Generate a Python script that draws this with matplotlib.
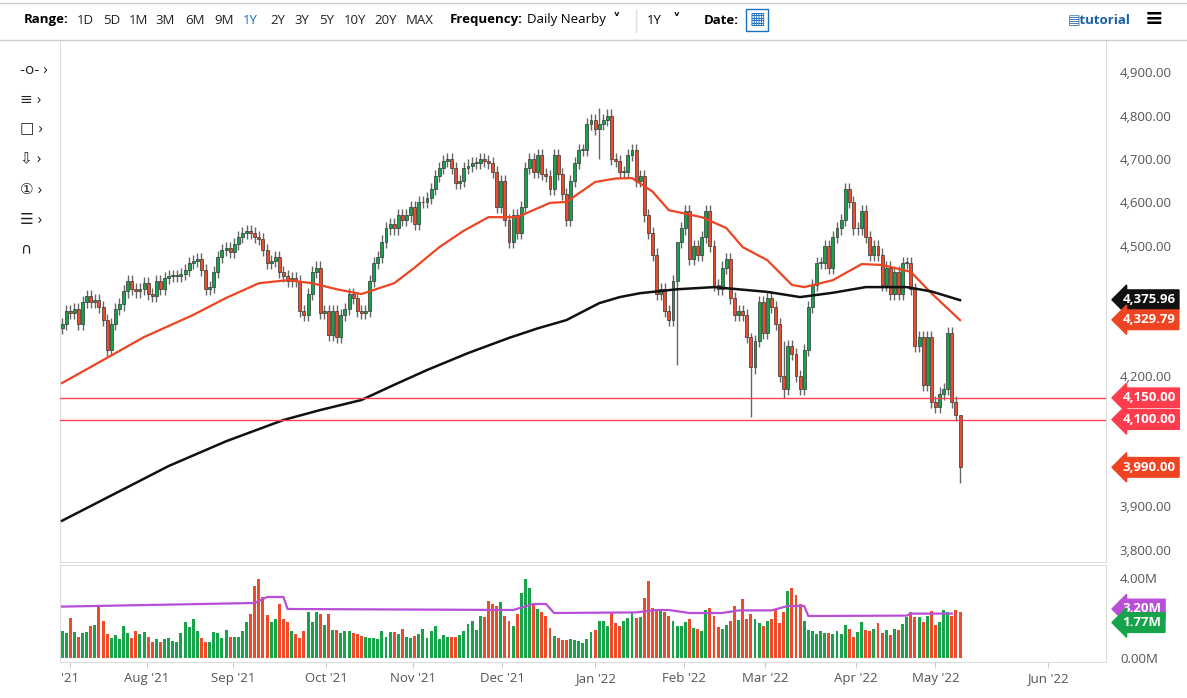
import matplotlib
matplotlib.use("Agg")
import matplotlib.pyplot as plt
import numpy as np

plt.rcParams['font.family'] = ['Open Sans', 'DejaVu Sans']

closes = [
 # Jul 2021
 4320,4350,4345,4355,4320,4370,4385,4370,4375,4360,4330,4260,4320,4355,4365,4395,4420,4400,4395,4400,4415,4390,
 # Aug
 4385,4420,4400,4425,4430,4430,4430,4435,4445,4460,4465,4470,4445,4400,4405,4440,4475,4490,4495,4485,4505,4520,
 # Sep
 4530,4535,4530,4520,4515,4490,4460,4465,4475,4440,4430,4420,4425,4420,4350,4340,4390,4440,4450,4345,4350,4295,
 # Oct
 4350,4290,4340,4355,4390,4380,4350,4345,4350,4420,4460,4475,4510,4540,4550,4540,4570,4560,4570,4590,4550,4600,4600,
 # Nov
 4610,4630,4660,4680,4695,4700,4680,4645,4650,4680,4685,4690,4690,4700,4695,4690,4670,4590,4650,4560,
 # Dec
 4510,4570,4530,4590,4680,4700,4670,4710,4665,4660,4630,4710,4665,4620,4560,4650,4690,4720,4720,4780,4790,4770,4780,
 # Jan 2022
 4790,4800,4700,4695,4670,4670,4710,4720,4650,4660,4570,4530,4480,4390,4400,4350,4330,4420,4510,4540,
 # Feb
 4580,4470,4500,4480,4520,4580,4500,4410,4400,4450,4470,4380,4340,4350,4340,4290,4220,4280,4370,
 # Mar
 4300,4380,4360,4320,4200,4170,4270,4250,4200,4170,4260,4360,4410,4460,4460,4500,4450,4520,4540,4560,4630,4600,4540,
 # Apr
 4540,4580,4520,4480,4500,4480,4410,4450,4390,4440,4390,4460,4460,4400,4270,4290,4180,4290,4140,4130,
 # May
 4160,4170,4300,4140,4110,3990,
]
volumes = [
 1.37,1.23,2.0,1.32,1.05,1.25,1.32,1.62,1.65,2.65,1.85,1.2,1.0,1.17,0.95,1.58,1.23,1.02,1.37,1.2,
 1.32,1.03,0.78,0.95,0.78,0.95,0.98,0.87,0.82,1.25,1.78,1.57,1.95,1.33,1.0,0.82,0.82,1.32,1.23,1.0,
 1.4,1.07,1.03,1.05,1.35,1.78,2.2,3.58,3.95,3.03,2.15,1.78,1.95,2.7,1.95,1.78,1.37,1.2,1.0,1.37,
 2.32,1.82,2.28,2.2,1.65,2.2,1.42,1.4,1.23,1.33,1.33,1.23,1.2,1.12,1.03,1.0,1.0,0.95,1.33,1.03,
 1.28,1.28,1.2,1.45,1.07,1.0,1.12,1.2,1.45,1.0,1.33,1.62,0.95,1.15,1.03,1.03,1.03,1.17,1.37,1.7,
 1.87,1.42,2.08,2.03,2.87,2.7,2.62,2.78,2.12,
 1.87,1.58,2.2,3.25,3.95,3.48,2.7,2.45,2.32,2.08,1.48,1.12,0.98,0.92,0.9,0.95,0.9,0.87,0.75,0.95,
 1.32,1.4,1.87,1.87,1.62,2.23,1.73,1.58,1.83,2.0,2.28,2.0,2.03,3.0,3.85,2.5,2.45,2.37,2.28,2.12,
 1.83,1.62,1.62,1.82,1.95,1.48,1.45,1.37,2.42,2.48,2.12,1.53,1.45,1.65,1.83,2.58,1.92,2.95,1.95,2.2,
 1.95,1.75,1.58,1.87,1.95,2.45,1.75,2.28,3.33,3.5,3.15,2.7,1.87,1.4,1.37,1.2,1.33,1.23,1.23,1.2,
 1.37,1.2,1.67,1.45,1.03,1.32,1.82,1.42,1.33,1.45,1.73,1.25,1.4,1.15,1.45,1.42,1.7,2.03,2.28,2.03,
 2.03,1.82,2.12,2.33,1.67,1.78,2.4,2.32,2.08,2.4,2.3,1.77,
]
# moving averages sampled at trading-day index
ma50_idx = [0,10,20,32,40,48,55,61,67,73,81,86,92,98,104,111,119,123,130,135,139,144,148,156,162,166,172,178,181,
            188,195,200,207,212,219]
ma50_vals = [4184,4237,4290,4341,4380,4414,4421,4414,4400,4389,4414,4450,4497,4535,4566,4566,4599,4601,4647,4655,
             4656,4625,4582,4566,4541,4497,4467,4410,4405,4421,4458,4456,4440,4391,4329]
ma200_idx = [0,13,26,40,54,63,73,81,89,99,109,116,123,131,136,141,150,159,172,180,188,196,206,212,219]
ma200_vals = [3867,3930,3993,4050,4099,4122,4145,4180,4214,4253,4288,4310,4329,4368,4382,4391,4400,4405,4394,4382,
              4392,4405,4405,4395,4375]
volma_idx = [0,47,50,54,55,110,115,118,120,140,145,148,153,161,165,173,177,181,182,206,207,217]
volma_vals = [2.57,2.75,3.05,3.05,2.45,2.4,2.7,2.7,2.25,2.28,2.4,2.4,2.25,2.25,2.38,2.38,2.6,2.6,2.1,2.12,2.22,2.22]
hlines = [4150, 4100]
month_labels = ["'21","Aug '21","Sep '21","Oct '21","Nov '21","Dec '21","Jan '22","Feb '22","Mar '22","Apr '22","May '22","Jun '22"]
month_pos = [2, 20.7, 41.7, 64.4, 85.6, 107.3, 130, 151.7, 171.5, 193.7, 213, 240.5]
long_wicks = {150: (4225, 4420), 168: (4105, 4300), 176: (4150, 4280), 131: (4700, 4818), 219: (3955, 4080)}

n = min(len(closes), len(volumes))
x = np.arange(n)
opens = [closes[0] - 10] + closes[:-1]
GREEN = "#16a34a"; RED = "#ef4a2a"

fig = plt.figure(figsize=(11.87, 6.98), dpi=100)
ax = fig.add_axes([60/1187, 136/698, 1046/1187, 522/698])
axv = fig.add_axes([60/1187, 36/698, 1046/1187, 97/698])

for i in range(n):
    o, c = opens[i], closes[i]
    hi, lo = max(o, c) + 14, min(o, c) - 14
    if i in long_wicks:
        lo, hi = long_wicks[i]
    col = GREEN if c >= o else RED
    ax.vlines(x[i], lo, hi, color="#666666", lw=1, zorder=2)
    ax.bar(x[i], max(abs(c - o), 2), bottom=min(o, c), width=0.72, color=col, edgecolor="#333333", lw=0.5, zorder=3)
    axv.bar(x[i], volumes[i], width=0.72, color=col, zorder=2)

ax.plot(ma50_idx, ma50_vals, color="#ee4422", lw=1.6, zorder=4)
ax.plot(ma200_idx, ma200_vals, color="#111111", lw=1.8, zorder=4)
axv.plot(volma_idx, volma_vals, color="#b84fd6", lw=1.6, zorder=3)
for h in hlines:
    ax.axhline(h, color="#ff4055", lw=1, zorder=5)

for a in (ax, axv):
    a.set_xlim(-0.5, 254.6)
    a.yaxis.tick_right()
    a.tick_params(axis="y", length=0, labelsize=9.5, labelcolor="#555555", pad=10)
    for s in a.spines.values():
        s.set_color("#dddddd")
yt = [3800, 3900, 4200, 4500, 4600, 4700, 4800, 4900]
ax.set_ylim(3772, 4974)
ax.set_yticks(yt)
ax.set_yticklabels([f"{v:,.2f}" for v in yt])
ax.set_xticks([])
axv.set_ylim(-0.2, 4.65)
axv.set_yticks([0, 4]); axv.set_yticklabels(["0.00M", "4.00M"])
axv.set_xticks(month_pos)
axv.set_xticklabels(month_labels)
axv.tick_params(axis="x", labelsize=9.5, labelcolor="#555555", color="#cccccc", length=4)

def tag(val, text, color, axis=ax):
    axis.annotate(text, xy=(1.0, val), xycoords=("axes fraction", "data"), xytext=(12, 0),
                  textcoords="offset points", va="center", ha="left", color="white", fontsize=9.5,
                  fontweight="bold", annotation_clip=False,
                  bbox=dict(boxstyle="larrow,pad=0.25", fc=color, ec=color))
tag(4375.96, "4,375.96", "#111111")
tag(4329.79, "4,329.79", "#ee4422")
tag(4150, "4,150.00", "#ff3b4e")
tag(4100, "4,100.00", "#ff3b4e")
tag(3990, "3,990.00", "#ee4422")
tag(2.45, "3.20M", "#b84fd6", axv)
tag(1.77, "1.77M", "#16a34a", axv)

# toolbar
fig.add_artist(plt.Line2D([0, 1], [1 - 40/698, 1 - 40/698], color="#cccccc", lw=1))
fig.add_artist(plt.Line2D([0, 1], [1 - 3/698, 1 - 3/698], color="#cccccc", lw=1))
yT = 1 - 20/698
fig.text(24/1187, yT, "Range:", fontsize=9.5, fontweight="bold", va="center")
for lab, px in zip(["1D","5D","1M","3M","6M","9M","1Y","2Y","3Y","5Y","10Y","20Y","MAX"],
                   [77,103,129,155,185,214,243,270,294,319,344,374,406]):
    fig.text(px/1187, yT, lab, fontsize=9.5, va="center", color="#1a6fc0" if lab == "1Y" else "#222222")
fig.text(450/1187, yT, "Frequency:", fontsize=9.5, fontweight="bold", va="center")
fig.text(527/1187, yT, "Daily Nearby", fontsize=9.5, va="center")
fig.text(613/1187, yT, "\u02C5", fontsize=11, fontweight="bold", va="center", family=["DejaVu Sans"])
fig.text(647/1187, yT, "1Y", fontsize=9.5, va="center")
fig.text(673/1187, yT, "\u02C5", fontsize=11, fontweight="bold", va="center", family=["DejaVu Sans"])
fig.add_artist(plt.Line2D([636/1187, 636/1187], [1 - 10/698, 1 - 32/698], color="#dddddd", lw=1))
fig.text(704/1187, yT, "Date:", fontsize=9.5, fontweight="bold", va="center")
fig.text(757/1187, yT, "\u25A6", fontsize=12, va="center", ha="center", color="#1a6fc0",
         bbox=dict(boxstyle="square,pad=0.2", fc="white", ec="#1a6fc0"))
fig.text(1068/1187, yT, "\u25A4tutorial", fontsize=9.5, fontweight="bold", va="center", color="#1a5fa0")
fig.text(1145/1187, yT, "\u2261", fontsize=16, fontweight="bold", va="center")
for i, sym in enumerate(["-o- \u203A", "\u2261 \u203A", "\u25A1 \u203A", "\u21E9 \u203A", "\u2460 \u203A", "\u2630 \u203A", "\u2229"]):
    fig.text(20/1187, 1 - (70 + i*30)/698, sym, fontsize=11, va="center", color="#222222")

fig.savefig("out.png", dpi=100)
